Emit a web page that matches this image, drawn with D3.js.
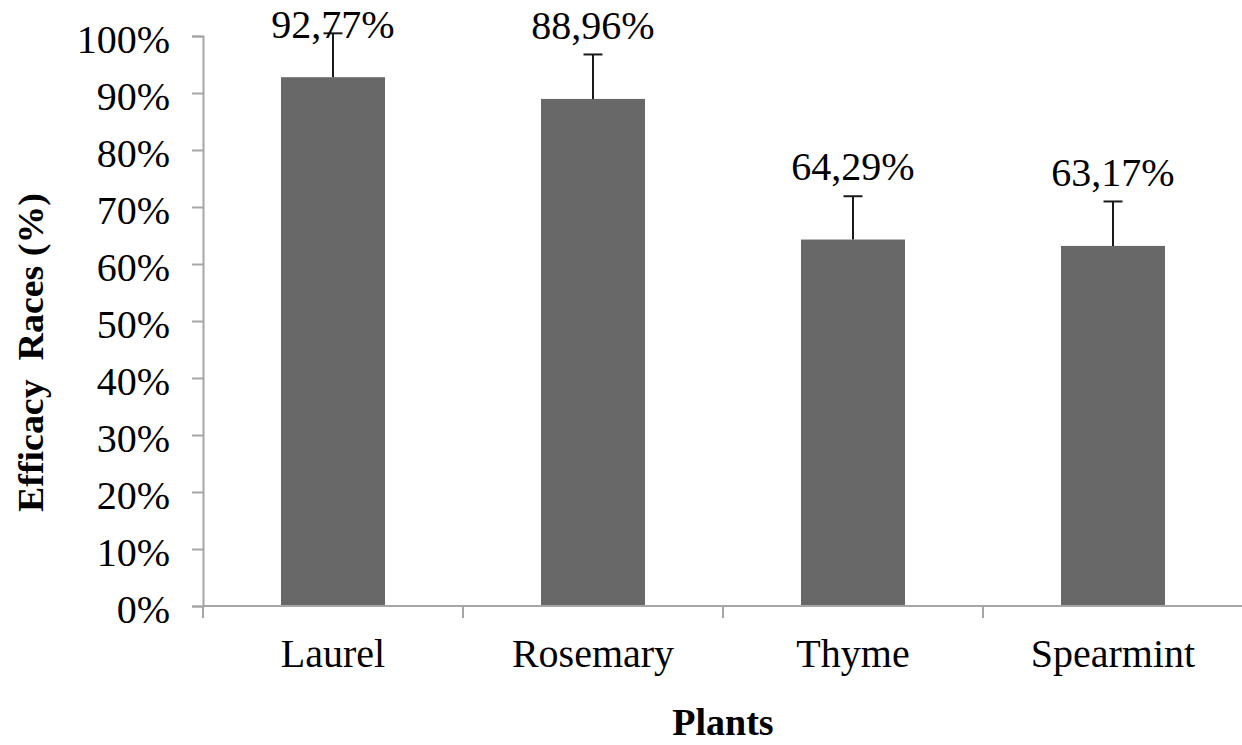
<!DOCTYPE html>
<html>
<head>
<meta charset="utf-8">
<script src="https://cdn.jsdelivr.net/npm/d3@7"></script>
<style>
  html, body { margin: 0; padding: 0; background: #fff; }
  svg { display: block; }
  text { font-family: "Liberation Serif", "Times New Roman", serif; }
</style>
</head>
<body>
<svg id="chart" width="1242" height="745"></svg>
<script>
const categories = ["Laurel", "Rosemary", "Thyme", "Spearmint"];
const values = [92.77, 88.96, 64.29, 63.17];
const errors = [7.7, 7.8, 7.6, 7.8];
const valueLabels = ["92,77%", "88,96%", "64,29%", "63,17%"];
const yTicks = [0, 10, 20, 30, 40, 50, 60, 70, 80, 90, 100];
const xTitle = "Plants";
const yTitle = "Efficacy  Races (%)";

(function () {
const svg = d3.select("#chart");
const mLeft = 203, mRight = 1243, mTop = 36, mBottom = 606;

const x = d3.scaleBand().domain(categories).range([mLeft, mRight]).paddingInner(0.6).paddingOuter(0.3);
const y = d3.scaleLinear().domain([0, 100]).range([mBottom, mTop]);

const axisColor = "#a6a6a6";

// bars
svg.append("g").selectAll("rect").data(values).join("rect")
  .attr("x", (d, i) => x(categories[i]))
  .attr("y", d => y(d))
  .attr("width", x.bandwidth())
  .attr("height", d => y(0) - y(d))
  .attr("fill", "#686868");

// y axis
const yAxis = svg.append("g").attr("transform", `translate(${mLeft},0)`)
  .call(d3.axisLeft(y).tickValues(yTicks).tickFormat(d => d + "%").tickSize(11).tickPadding(22));
yAxis.select(".domain").attr("stroke", axisColor).attr("stroke-width", 2);
yAxis.selectAll(".tick line").attr("stroke", axisColor).attr("stroke-width", 2);
yAxis.selectAll(".tick text").attr("font-size", 40).attr("fill", "#000")
  .attr("font-family", "Liberation Serif, Times New Roman, serif").attr("dy", "0.4em");

// x axis: domain line + boundary ticks
const xg = svg.append("g").attr("transform", `translate(0,${mBottom})`);
xg.append("line").attr("x1", mLeft).attr("x2", mRight).attr("y1", 0).attr("y2", 0)
  .attr("stroke", axisColor).attr("stroke-width", 2);
const boundaries = d3.range(categories.length + 1).map(i => mLeft + i * (mRight - mLeft) / categories.length);
xg.selectAll("line.b").data(boundaries).join("line").attr("class", "b")
  .attr("x1", d => d).attr("x2", d => d).attr("y1", 0).attr("y2", 12)
  .attr("stroke", axisColor).attr("stroke-width", 2);
xg.selectAll("text.c").data(categories).join("text").attr("class", "c")
  .attr("x", d => x(d) + x.bandwidth() / 2).attr("y", 61)
  .attr("text-anchor", "middle").attr("font-size", 40).attr("fill", "#000")
  .text(d => d);

// error bars
const eg = svg.append("g").attr("stroke", "#1a1a1a").attr("stroke-width", 2);
values.forEach((v, i) => {
  const cx = x(categories[i]) + x.bandwidth() / 2;
  eg.append("line").attr("x1", cx).attr("x2", cx).attr("y1", y(v)).attr("y2", y(v + errors[i]));
  eg.append("line").attr("x1", cx - 9.5).attr("x2", cx + 9.5).attr("y1", y(v + errors[i])).attr("y2", y(v + errors[i]));
});

// value labels
svg.append("g").selectAll("text").data(values).join("text")
  .attr("x", (d, i) => x(categories[i]) + x.bandwidth() / 2)
  .attr("y", d => Math.max(y(d) - 60, mTop + 2))
  .attr("text-anchor", "middle").attr("font-size", 40).attr("fill", "#000")
  .text((d, i) => valueLabels[i]);

// axis titles
svg.append("text").attr("x", (mLeft + mRight) / 2).attr("y", 735)
  .attr("text-anchor", "middle").attr("font-size", 38).attr("font-weight", "bold")
  .text(xTitle);
svg.append("text")
  .attr("transform", `translate(43,${(193 + 512) / 2}) rotate(-90)`)
  .attr("text-anchor", "middle").attr("font-size", 36).attr("font-weight", "bold")
  .attr("textLength", 319).attr("lengthAdjust", "spacingAndGlyphs")
  .style("white-space", "pre")
  .text(yTitle);
})();
</script>
</body>
</html>
